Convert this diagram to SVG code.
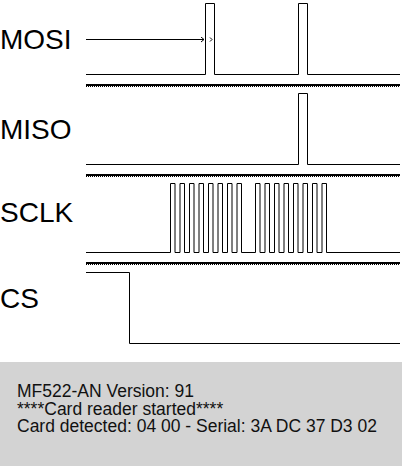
<svg xmlns="http://www.w3.org/2000/svg" width="402" height="466" viewBox="0 0 402 466">
<defs>
<style>
.lbl{font-family:"Liberation Sans",Arial,sans-serif;font-size:28px;fill:#000}
.con{font-family:"Liberation Sans",Arial,sans-serif;font-size:17.5px;fill:#111}
.wave{fill:none;stroke:#000;stroke-width:1}
.sep{stroke:#000;stroke-width:2}
.sepd{stroke:#000;stroke-width:1;stroke-dasharray:1 1}
</style>
<marker id="chev" markerWidth="6" markerHeight="6" refX="4" refY="3" orient="auto" markerUnits="userSpaceOnUse">
<path d="M1,0.5 L4,3 L1,5.5" fill="none" stroke="#000" stroke-width="1"/>
</marker>
</defs>
<rect width="402" height="466" fill="#fff"/>
<g id="mosi">
<text class="lbl" x="0" y="49">MOSI</text>
<path class="wave" d="M86,74.5 H205.5 V3.5 H214.5 V74.5 H298.5 V3.5 H307.5 V74.5 H400"/>
</g>
<g id="miso">
<text class="lbl" x="0" y="139">MISO</text>
<path class="wave" d="M86,164.5 H298.5 V93.5 H307.5 V164.5 H400"/>
</g>
<g id="sclk">
<text class="lbl" x="0" y="222">SCLK</text>
<path class="wave" d="M86,252.5 H170.5
V183.5 h4.5 V252.5 h5 V183.5 h4.5 V252.5 h5 V183.5 h4.5 V252.5 h5 V183.5 h4.5 V252.5 h5
V183.5 h4.5 V252.5 h5 V183.5 h4.5 V252.5 h5 V183.5 h4.5 V252.5 h5 V183.5 h4.5 V252.5
H255.5
V183.5 h4.5 V252.5 h5 V183.5 h4.5 V252.5 h5 V183.5 h4.5 V252.5 h5 V183.5 h4.5 V252.5 h5
V183.5 h4.5 V252.5 h5 V183.5 h4.5 V252.5 h5 V183.5 h4.5 V252.5 h5 V183.5 h4.5 V252.5
H400"/>
</g>
<g id="cs">
<text class="lbl" x="0" y="308">CS</text>
<path class="wave" d="M86,272.5 H129.5 V343.5 H400"/>
</g>
<g id="separators">
<line class="sep" x1="86" y1="85" x2="400" y2="85"/>
<line class="sepd" x1="86" y1="86.5" x2="400" y2="86.5"/>
<line class="sep" x1="86" y1="175" x2="400" y2="175"/>
<line class="sepd" x1="86" y1="176.5" x2="400" y2="176.5"/>
<line class="sep" x1="86" y1="263" x2="400" y2="263"/>
<line class="sepd" x1="86" y1="264.5" x2="400" y2="264.5"/>
</g>
<g id="connectors">
<line x1="86" y1="39.5" x2="204" y2="39.5" stroke="#000" stroke-width="1" marker-end="url(#chev)"/>
<path d="M210,37.5 L212,39.5 L210,41.5" fill="none" stroke="#000" stroke-width="1"/>
</g>
<g id="console">
<rect x="0" y="362" width="402" height="104" fill="#d3d3d3"/>
<text class="con" x="17" y="397">MF522-AN Version: 91</text>
<text class="con" x="17" y="414.5">****Card reader started****</text>
<text class="con" x="17" y="432">Card detected: 04 00 - Serial: 3A DC 37 D3 02</text>
</g>
</svg>
